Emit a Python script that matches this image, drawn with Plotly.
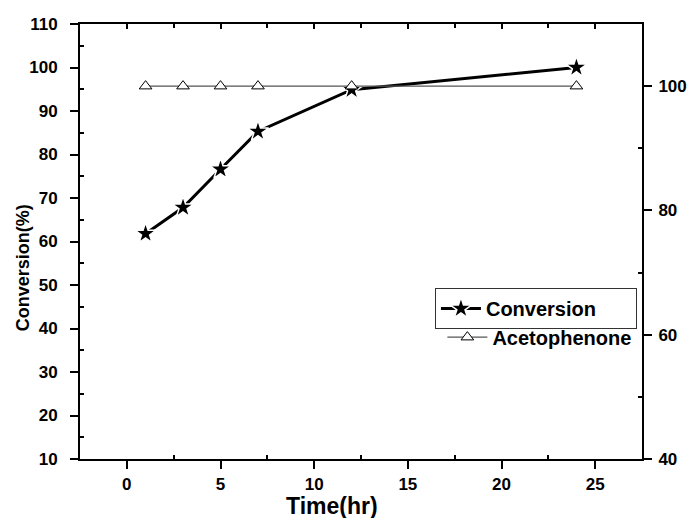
import plotly.graph_objects as go

# Reaction time course
time_hr = [1, 3, 5, 7, 12, 24]
conversion = [61.8, 67.8, 76.6, 85.3, 94.9, 100.0]
acetophenone = [100, 100, 100, 100, 100, 100]

x_ticks = [0, 5, 10, 15, 20, 25]
y_ticks = list(range(10, 111, 10))
y2_ticks = [40, 60, 80, 100]

FONT = "Liberation Sans, Arial, sans-serif"


def bold(vals):
    return [f"<b>{v}</b>" for v in vals]


fig = go.Figure()

fig.add_trace(go.Scatter(
    x=time_hr, y=conversion, name="Conversion", mode="lines+markers",
    line=dict(color="black", width=3),
    marker=dict(symbol="star", size=16, color="black",
                line=dict(color="white", width=1.5)),
    legend="legend",
))

fig.add_trace(go.Scatter(
    x=time_hr, y=acetophenone, name="Acetophenone", mode="lines+markers",
    line=dict(color="#555555", width=1.2),
    marker=dict(symbol="triangle-up", size=11, color="white",
                line=dict(color="black", width=1)),
    yaxis="y2", legend="legend2",
))

# top axis carries only inward tick marks
fig.add_trace(go.Scatter(x=[None], y=[None], xaxis="x2", showlegend=False,
                         hoverinfo="skip"))

tickfont = dict(family=FONT, size=17, color="black", weight="bold")
AX = dict(showgrid=False, zeroline=False, showline=True, linecolor="black",
          linewidth=2, ticks="outside", ticklen=8, tickwidth=2, tickcolor="black",
          automargin=False, tickfont=tickfont)

fig.update_layout(
    width=689, height=518,
    margin=dict(l=80, r=47, t=24, b=59),
    plot_bgcolor="white", paper_bgcolor="white",
    font=dict(family=FONT, color="black", weight="bold"),
    xaxis=dict(
        range=[-2.5, 27.5], tickvals=x_ticks, ticktext=bold(x_ticks),
        minor=dict(tickvals=[2.5, 7.5, 12.5, 17.5, 22.5], ticks="inside",
                   ticklen=4, tickwidth=1.5, tickcolor="black"),
        mirror=True, ticklabelstandoff=1,
        **AX,
    ),
    xaxis2=dict(
        overlaying="x", side="top", range=[-2.5, 27.5],
        tickvals=x_ticks, ticks="inside", ticklen=5,
        tickwidth=1.5, tickcolor="black", showticklabels=False,
        showgrid=False, zeroline=False, automargin=False,
        minor=dict(tickvals=[2.5, 7.5, 12.5, 17.5, 22.5], ticks="inside",
                   ticklen=4, tickwidth=1.5, tickcolor="black"),
    ),
    yaxis=dict(
        range=[10, 110], tickvals=y_ticks, ticktext=bold(y_ticks),
        minor=dict(tickvals=list(range(15, 110, 10)), ticks="inside",
                   ticklen=4, tickwidth=1.5, tickcolor="black"),
        ticklabelstandoff=9,
        **AX,
    ),
    yaxis2=dict(
        overlaying="y", side="right", range=[40, 110],
        tickvals=y2_ticks, ticktext=bold(y2_ticks),
        minor=dict(tickvals=[50, 70, 90], ticks="inside", ticklen=4,
                   tickwidth=1.5, tickcolor="black"),
        ticklabelstandoff=3,
        **AX,
    ),
    legend=dict(
        x=0.991, y=0.393, xanchor="right", yanchor="top",
        bgcolor="white", bordercolor="#333333", borderwidth=1,
        font=dict(family=FONT, size=20, color="black", weight="bold"),
        orientation="h", entrywidth=145, itemwidth=40,
    ),
    legend2=dict(
        x=0.99, y=0.325, xanchor="right", yanchor="top",
        bgcolor="rgba(0,0,0,0)", borderwidth=0,
        font=dict(family=FONT, size=20, color="black", weight="bold"),
        itemwidth=40,
    ),
    annotations=[
        dict(text="<b>Time(hr)</b>", xref="paper", yref="paper",
             x=0.448, y=-0.107, xanchor="center", yanchor="middle",
             showarrow=False, font=dict(family=FONT, size=23, color="black")),
        dict(text="<b>Conversion(%)</b>", xref="paper", yref="paper",
             x=-0.102, y=0.44, xanchor="center", yanchor="middle", textangle=-90,
             showarrow=False, font=dict(family=FONT, size=18, color="black")),
    ],
)

fig.write_html("out.html")
